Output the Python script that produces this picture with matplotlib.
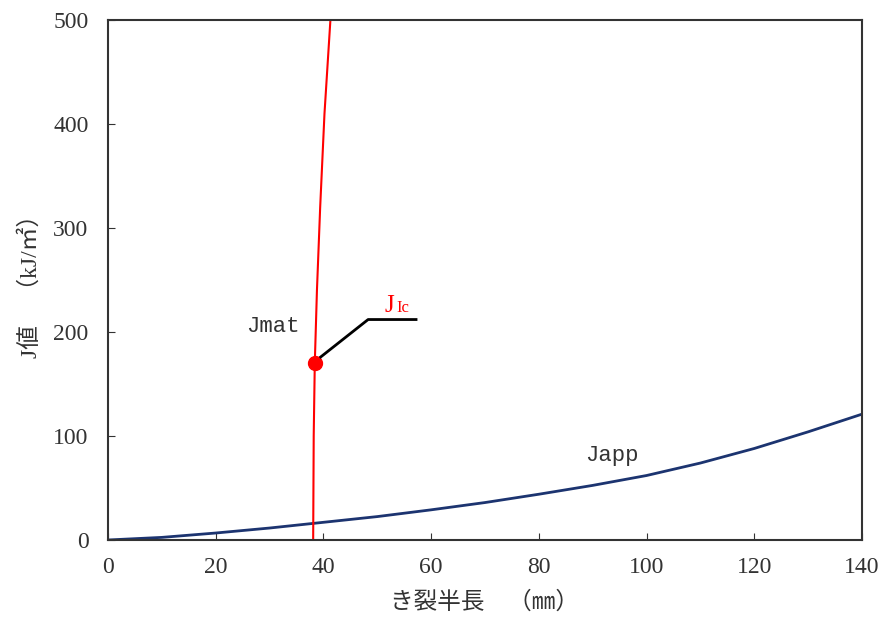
import numpy as np
from matplotlib import pyplot as plt

plt.rcParams['font.family'] = ['Liberation Serif', 'Noto Sans CJK JP']

# Japp curve (crack half length mm, J kJ/m2)
app_a = [0, 10, 20, 30, 40, 50, 60, 70, 80, 90, 100, 110, 120, 130, 140]
app_j = [0, 2.5, 6.7, 11.5, 17, 22.5, 29, 36, 44, 52.5, 62, 74, 88, 104, 121]

# Jmat curve
mat_a = [38.1, 38.2, 38.4, 38.8, 39.4, 40.2, 41.3]
mat_j = [0, 100, 170, 240, 320, 410, 500]

# JIc point
jic_a = 38.5
jic_j = 170

fig = plt.figure(figsize=(8.85, 6.26), dpi=100)
ax = fig.add_axes([0.122, 0.1374, 0.852, 0.8306])

ax.plot(app_a, app_j, color="#1c3470", lw=2)
ax.plot(mat_a, mat_j, color="#ff0000", lw=1.5)
ax.plot(jic_a, jic_j, "o", color="#ff0000", ms=10)

# leader line for JIc
ax.plot([jic_a + 1.0, 48.3, 57.2], [jic_j + 6, 212, 212], color="black", lw=2)
ax.text(51.3, 219, "J", color="#ff0000", fontsize=18)
ax.text(53.6, 219, "Ic", color="#ff0000", fontsize=12)

ax.text(25.6, 200, "Jmat", color="#333333", fontsize=16, family="Liberation Mono")
ax.text(88.5, 76, "Japp", color="#333333", fontsize=16, family="Liberation Mono")

ax.set_xlim(0, 140)
ax.set_ylim(0, 500)
ax.set_xticks(np.arange(0, 141, 20))
ax.set_yticks(np.arange(0, 501, 100))
ax.tick_params(direction="in", length=5, labelsize=17, colors="#333333")
ax.tick_params(axis="x", pad=12)
ax.tick_params(axis="y", pad=14)
for s in ax.spines.values():
    s.set_color("#333333")
    s.set_linewidth(1.5)

ax.set_xlabel("き裂半長　（㎜）", fontsize=17, color="#333333", labelpad=10)
ax.set_ylabel("J値　（kJ/㎡）", fontsize=17, color="#333333", labelpad=8)

plt.savefig("out.png", dpi=100)
